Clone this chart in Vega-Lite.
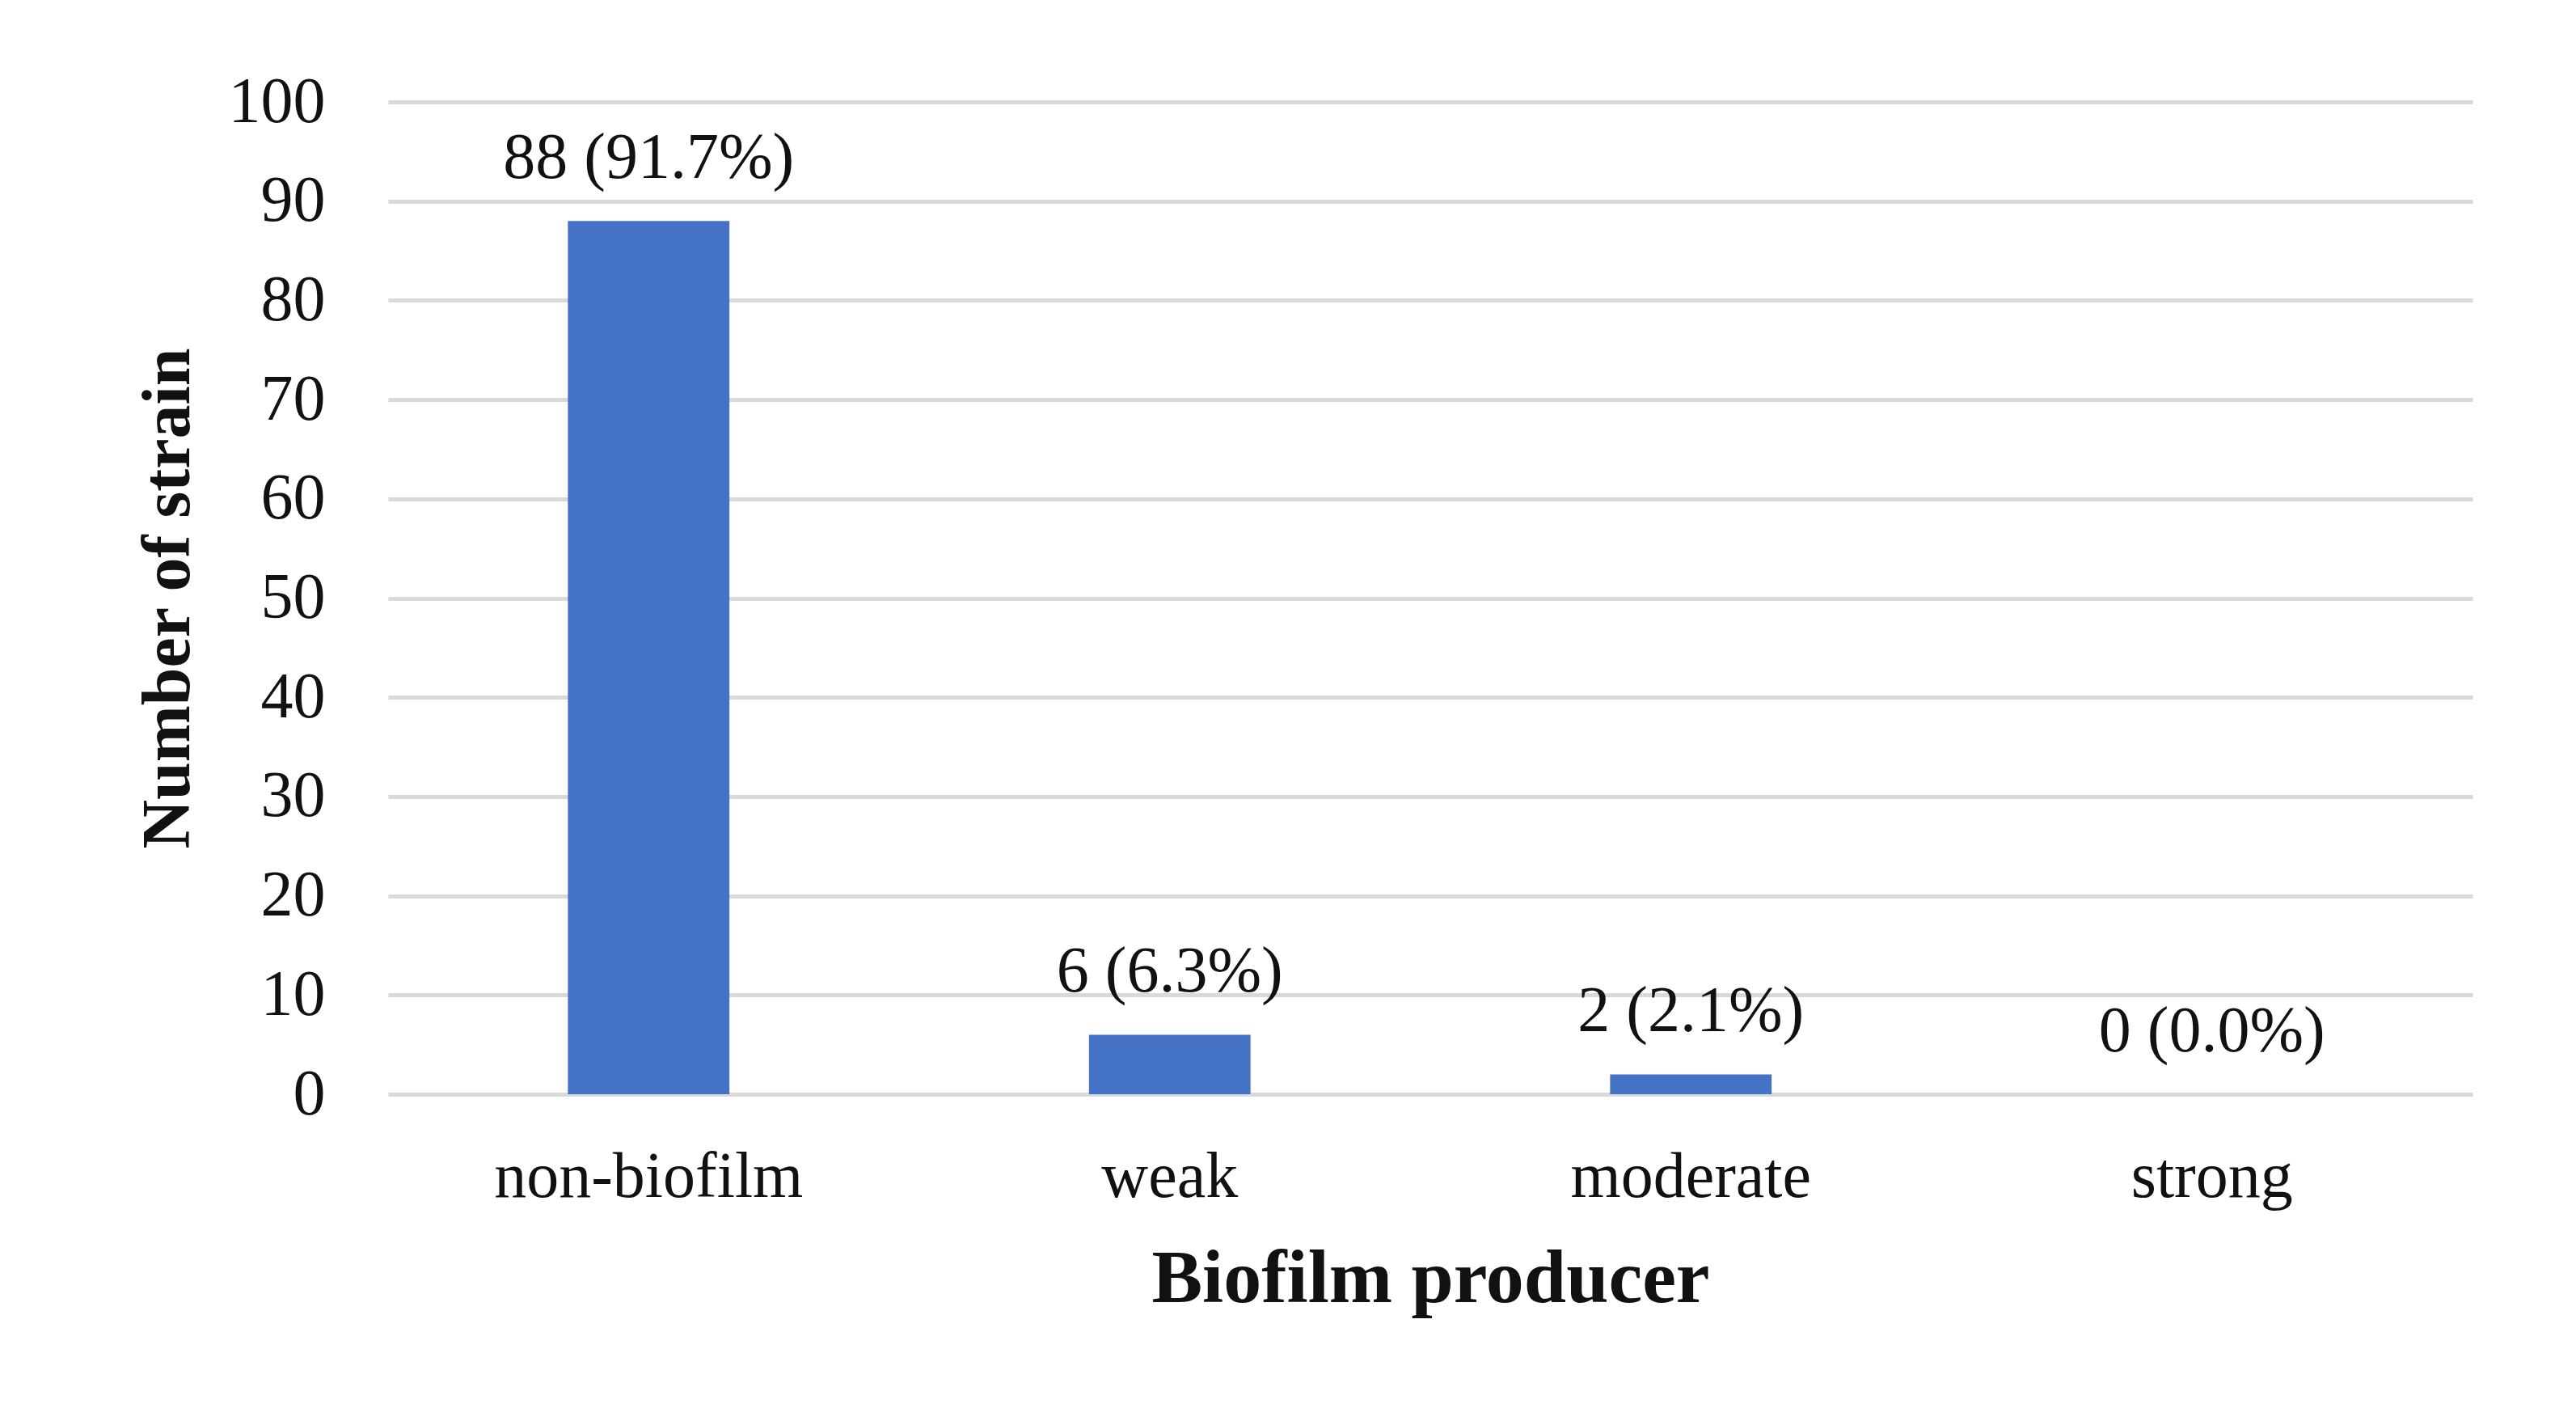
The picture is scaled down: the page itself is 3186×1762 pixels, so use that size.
{
  "$schema": "https://vega.github.io/schema/vega-lite/v6.json",
  "autosize": {"type": "none"},
  "padding": {"left": 480, "top": 126, "right": 128, "bottom": 409},
  "width": 2578,
  "height": 1227,
  "background": "white",
  "config": {
    "view": {"stroke": null},
    "font": "Liberation Serif"
  },
  "data": {
    "values": [
      {"producer": "non-biofilm", "count": 88, "label": "88 (91.7%)"},
      {"producer": "weak", "count": 6, "label": "6 (6.3%)"},
      {"producer": "moderate", "count": 2, "label": "2 (2.1%)"},
      {"producer": "strong", "count": 0, "label": "0 (0.0%)"}
    ]
  },
  "encoding": {
    "x": {
      "field": "producer",
      "type": "nominal",
      "sort": null,
      "scale": {"paddingInner": 0.69, "paddingOuter": 0.345},
      "axis": {
        "title": "Biofilm producer",
        "titleFont": "Liberation Serif",
        "titleFontSize": 94,
        "titleFontWeight": "bold",
        "titleColor": "#111111",
        "titlePadding": 40,
        "labelFont": "Liberation Serif",
        "labelFontSize": 80,
        "labelColor": "#111111",
        "labelAngle": 0,
        "labelPadding": 63,
        "labelLimit": 0,
        "ticks": false,
        "tickSize": 0,
        "domain": false,
        "grid": false
      }
    },
    "y": {
      "field": "count",
      "type": "quantitative",
      "scale": {"domain": [0, 100]},
      "axis": {
        "title": "Number of strain",
        "titleFont": "Liberation Serif",
        "titleFontSize": 84,
        "titleFontWeight": "bold",
        "titleColor": "#111111",
        "titlePadding": 31,
        "labelFont": "Liberation Serif",
        "labelFontSize": 80,
        "labelColor": "#111111",
        "labelPadding": 78,
        "values": [0, 10, 20, 30, 40, 50, 60, 70, 80, 90, 100],
        "ticks": false,
        "tickSize": 0,
        "domain": false,
        "grid": true,
        "gridColor": "#d9d9d9",
        "gridWidth": 5
      }
    }
  },
  "layer": [
    {
      "mark": {"type": "bar", "color": "#4472C4"}
    },
    {
      "mark": {
        "type": "text",
        "baseline": "alphabetic",
        "dy": -53,
        "fontSize": 80,
        "color": "#111111",
        "font": "Liberation Serif"
      },
      "encoding": {"text": {"field": "label"}}
    }
  ]
}
